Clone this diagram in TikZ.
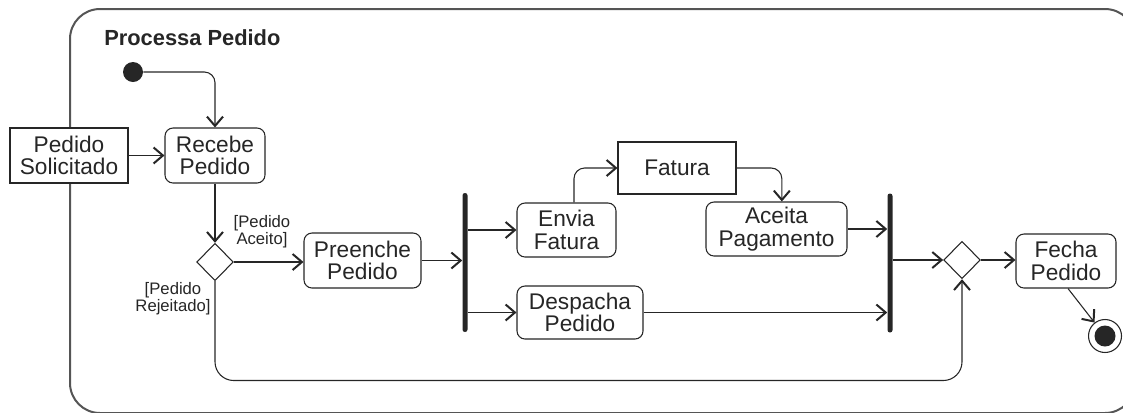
\documentclass[tikz,border=0pt]{standalone}
\usepackage{fontspec}
\setmainfont{Liberation Sans}
\usetikzlibrary{shapes.geometric,arrows.meta,calc}
\definecolor{ink}{HTML}{262626}
\definecolor{framec}{HTML}{555555}
\begin{document}
\begin{tikzpicture}[x=0.75pt,y=-0.75pt,
  act/.style={draw=ink,line width=0.8pt,rounded corners=6pt,fill=white,align=center,inner sep=0pt,font=\fontsize{17}{17}\selectfont,text=ink},
  obj/.style={draw=ink,line width=0.8pt,fill=white,align=center,inner sep=0pt,font=\fontsize{17}{17}\selectfont,text=ink},
  dec/.style={diamond,draw=ink,line width=0.8pt,fill=white,inner sep=0pt,minimum width=27.5pt,minimum height=28pt},
  bar/.style={fill=ink,draw=none,minimum width=3.75pt,minimum height=104.25pt,inner sep=0pt,rounded corners=1.8pt},
  flow/.style={draw=ink,line width=0.8pt,-{Straight Barb[length=7pt,width=12pt,line width=1.5pt]}},
  guard/.style={font=\fontsize{12.5}{12.5}\selectfont,align=center,text=ink,inner sep=0pt}
]
\useasboundingbox (0,0) rectangle (1123,412);
\begin{scope}
  \clip (0,0) rectangle (1123,412);
  \draw[framec,line width=1.5pt,rounded corners=22.5pt] (70,9) rectangle (1135,413);
\end{scope}
\node[anchor=base west,font=\bfseries\fontsize{16.4}{16.4}\selectfont,text=ink,inner sep=0pt] (title) at (104,45) {Processa Pedido};

\node[circle,fill=ink,minimum size=15pt,inner sep=0pt] (init) at (133,72) {};
\node[obj,minimum width=88.5pt,minimum height=41.25pt] (solic) at (69,155.5) {Pedido\\Solicitado};
\node[act,minimum width=75pt,minimum height=41.25pt] (recebe) at (215,155.5) {Recebe\\Pedido};
\node[dec] (d1) at (215,262) {};
\node[act,minimum width=87.75pt,minimum height=41.25pt] (preenche) at (362.5,260.5) {Preenche\\Pedido};
\node[bar] (fork) at (465,262.5) {};
\node[act,minimum width=74.25pt,minimum height=40.5pt] (envia) at (566.5,230) {Envia\\Fatura};
\node[obj,minimum width=88.5pt,minimum height=39pt] (fatura) at (677,168) {Fatura};
\node[act,minimum width=105.75pt,minimum height=40.5pt] (aceita) at (776.5,229) {Aceita\\Pagamento};
\node[act,minimum width=94.5pt,minimum height=39.75pt] (despacha) at (580,312.5) {Despacha\\Pedido};
\node[bar] (join) at (890,263) {};
\node[dec] (d2) at (962,260) {};
\node[act,minimum width=75pt,minimum height=40.5pt] (fecha) at (1066,261) {Fecha\\Pedido};
\node[circle,draw=ink,line width=0.8pt,fill=white,minimum size=24.75pt,inner sep=0pt] (final) at (1105,336) {};
\node[circle,fill=ink,minimum size=15.75pt,inner sep=0pt] (finalcore) at (final) {};

\node[guard] (gacc) at (262,232) {[Pedido\\Aceito]};
\node[guard] (grej) at (173,299) {[Pedido\\Rejeitado]};

\draw[flow,rounded corners=8pt] (init.east) -| (recebe.north);
\draw[flow] (solic.east) -- (solic.east -| recebe.west);
\draw[flow] (recebe.south) -- (d1.north);
\draw[flow] (d1.east) -- (d1.east -| preenche.west);
\draw[flow] (preenche.east) -- (preenche.east -| fork.west);
\draw[flow] (fork.east |- envia.west) -- (envia.west);
\draw[flow] (fork.east |- despacha.west) -- (despacha.west);
\draw[flow,rounded corners=8pt] ([xshift=5.6pt]envia.north) |- (fatura.west);
\draw[flow,rounded corners=8pt] (fatura.east) -| ([xshift=4pt]aceita.north);
\draw[flow] (aceita.east) -- (aceita.east -| join.west);
\draw[flow] (despacha.east) -- (despacha.east -| join.west);
\draw[flow] (join.east |- d2.west) -- (d2.west);
\draw[flow] (d2.east) -- (d2.east -| fecha.west);
\draw[flow] ([xshift=1.5pt]fecha.south) -- (final);
\coordinate (low) at (0,380.5);
\draw[flow,rounded corners=14pt] (d1.south) |- (low -| d2.south) -- (d2.south);
\end{tikzpicture}
\end{document}
